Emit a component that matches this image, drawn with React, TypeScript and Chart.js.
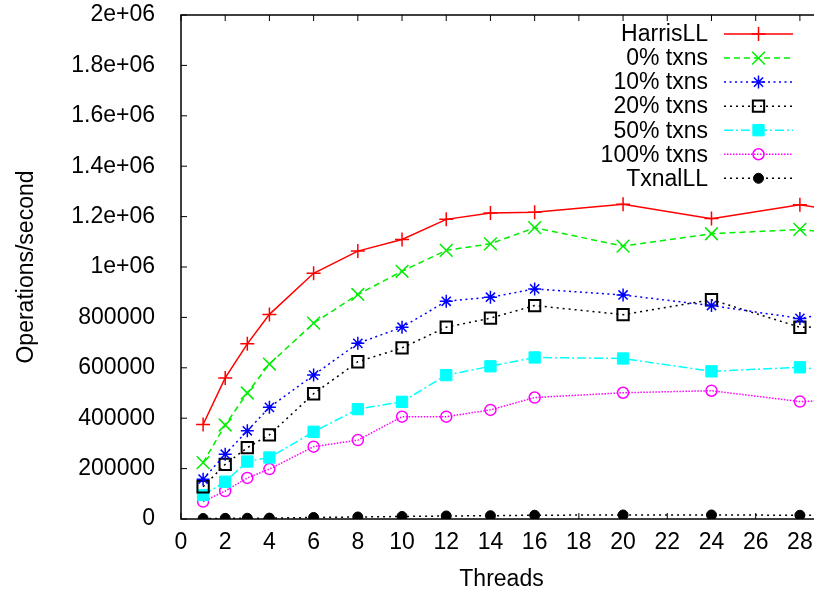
import React, { useEffect, useRef } from "react";
import { Chart, registerables } from "chart.js";
import { drawPoint } from "chart.js/helpers";

Chart.register(...registerables);

const threads = [1, 2, 3, 4, 6, 8, 10, 12, 14, 16, 20, 24, 28, 32];
const harrisLL = [375000, 560000, 695000, 812000, 975000, 1063000, 1109000, 1189000, 1214000, 1217000, 1249000, 1192000, 1247000, 1190000];
const txns0 = [224000, 373000, 500000, 615000, 777000, 891000, 983000, 1066000, 1092000, 1156000, 1083000, 1132000, 1149000, 1113000];
const txns10 = [158000, 257000, 350000, 443000, 571000, 697000, 761000, 864000, 880000, 913000, 889000, 847000, 796000, 857000];
const txns20 = [128000, 217000, 283000, 334000, 497000, 624000, 679000, 761000, 797000, 847000, 811000, 870000, 761000, 765000];
const txns50 = [95000, 148000, 228000, 244000, 346000, 436000, 465000, 571000, 606000, 641000, 637000, 586000, 602000, 562000];
const txns100 = [69000, 111000, 163000, 198000, 287000, 313000, 406000, 406000, 433000, 482000, 501000, 509000, 466000, 480000];
const txnalLL = [2000, 2500, 3000, 3500, 6000, 8000, 10000, 12000, 13000, 15000, 16000, 16000, 15000, 15000];

const seriesNames = ["HarrisLL", "0% txns", "10% txns", "20% txns", "50% txns", "100% txns", "TxnalLL"];
const xTitle = "Threads";
const yTitle = "Operations/second";

const FONT = "'Liberation Sans', Arial, sans-serif";

const pts = (ys: number[]) => ys.map((y, i) => ({ x: threads[i], y }));

const gnuKey = {
  id: "gnuKey",
  afterDatasetsDraw(chart: any) {
    const ctx = chart.ctx;
    const textRight = 708;
    const lineL = 724;
    const lineR = 793;
    const markX = 758.5;
    const y0 = 34;
    const step = 24.05;
    ctx.save();
    chart.data.datasets.forEach((ds: any, i: number) => {
      const y = y0 + i * step;
      ctx.font = `23px ${FONT}`;
      ctx.fillStyle = "#000";
      ctx.textAlign = "right";
      ctx.textBaseline = "middle";
      ctx.fillText(ds.label, textRight, y + 1);
      ctx.strokeStyle = ds.borderColor;
      ctx.lineWidth = ds.borderWidth;
      ctx.setLineDash(ds.borderDash || []);
      ctx.beginPath();
      ctx.moveTo(lineL, y);
      ctx.lineTo(lineR, y);
      ctx.stroke();
      ctx.setLineDash([]);
      ctx.strokeStyle = ds.pointBorderColor;
      ctx.fillStyle = ds.pointBackgroundColor;
      ctx.lineWidth = ds.pointBorderWidth;
      drawPoint(ctx, { pointStyle: ds.pointStyle, rotation: 0, radius: ds.pointRadius, borderWidth: ds.pointBorderWidth }, markX, y);
    });
    ctx.restore();
  },
};

const frame = {
  id: "frame",
  afterDraw(chart: any) {
    const { ctx, chartArea: a, scales } = chart;
    const tl = 6;
    ctx.save();
    ctx.strokeStyle = "#000";
    ctx.lineWidth = 1.5;
    ctx.setLineDash([]);
    ctx.strokeRect(a.left, a.top, a.right - a.left, a.bottom - a.top);
    ctx.lineWidth = 1;
    ctx.beginPath();
    scales.x.ticks.forEach((t: any) => {
      const px = scales.x.getPixelForValue(t.value);
      ctx.moveTo(px, a.bottom);
      ctx.lineTo(px, a.bottom - tl);
      ctx.moveTo(px, a.top);
      ctx.lineTo(px, a.top + tl);
    });
    scales.y.ticks.forEach((t: any) => {
      const py = scales.y.getPixelForValue(t.value);
      ctx.moveTo(a.left, py);
      ctx.lineTo(a.left + tl, py);
      ctx.moveTo(a.right, py);
      ctx.lineTo(a.right - tl, py);
    });
    ctx.stroke();
    ctx.restore();
  },
};

export default function App() {
  const ref = useRef<HTMLCanvasElement | null>(null);

  useEffect(() => {
    if (!ref.current) return;
    Chart.defaults.font.family = FONT;
    Chart.defaults.color = "#000";
    const mk = (
      label: string,
      data: number[],
      color: string,
      dash: number[],
      style: string,
      radius: number,
      fill: string,
      pbw: number
    ) => ({
      label,
      data: pts(data),
      borderColor: color,
      borderWidth: 1.5,
      borderDash: dash,
      pointStyle: style,
      pointRadius: radius,
      pointHoverRadius: radius,
      pointBorderColor: color,
      pointBackgroundColor: fill,
      pointBorderWidth: pbw,
      tension: 0,
      fill: false,
    });
    const chart = new Chart(ref.current, {
      type: "line",
      data: {
        datasets: [
          mk(seriesNames[0], harrisLL, "#ff0000", [], "cross", 7, "#ff0000", 1.5),
          mk(seriesNames[1], txns0, "#00ee00", [6, 4], "crossRot", 9, "#00ee00", 1.5),
          mk(seriesNames[2], txns10, "#0000ff", [2, 3.5], "star", 6.5, "#0000ff", 1.5),
          mk(seriesNames[3], txns20, "#000000", [2, 4], "rect", 8, "rgba(0,0,0,0)", 2),
          mk(seriesNames[4], txns50, "#00ffff", [9, 3, 2, 3], "rect", 8, "#00ffff", 1),
          mk(seriesNames[5], txns100, "#ff00ff", [1.5, 1.5], "circle", 5.5, "rgba(0,0,0,0)", 1.5),
          mk(seriesNames[6], txnalLL, "#000000", [2, 4], "circle", 5, "#000000", 1),
        ] as any,
      },
      options: {
        animation: false,
        responsive: true,
        maintainAspectRatio: false,
        layout: { autoPadding: false, padding: { top: 15, right: 18, left: 0, bottom: 0 } },
        plugins: { legend: { display: false }, tooltip: { enabled: false } },
        scales: {
          x: {
            type: "linear",
            min: 0,
            max: 29,
            grid: { display: false },
            border: { display: false },
            ticks: { stepSize: 2, includeBounds: false, font: { size: 23 }, color: "#000", padding: 2, maxRotation: 0 },
            title: { display: true, text: xTitle, font: { size: 23 }, color: "#000", padding: { top: 0, bottom: 1 } },
            afterFit: (s: any) => {
              s.height = 75;
              s.paddingLeft = 0;
              s.paddingRight = 0;
            },
          },
          y: {
            type: "linear",
            min: 0,
            max: 2000000,
            grid: { display: false },
            border: { display: false },
            ticks: {
              stepSize: 200000,
              font: { size: 23 },
              color: "#000",
              padding: 18,
              callback: (v: any) => {
                const n = Number(v);
                if (n >= 1000000) return `${Math.round((n / 1000000) * 10) / 10}e+06`;
                return String(n);
              },
            },
            title: { display: true, text: yTitle, font: { size: 23 }, color: "#000", padding: { top: 13, bottom: 0 } },
            afterFit: (s: any) => {
              s.width = 181;
              s.paddingTop = 0;
              s.paddingBottom = 0;
            },
          },
        },
      } as any,
      plugins: [frame, gnuKey],
    });
    return () => chart.destroy();
  }, []);

  return (
    <div style={{ position: "fixed", left: 0, top: 0, width: 840, height: 594, background: "#fff" }}>
      <canvas ref={ref} />
    </div>
  );
}
